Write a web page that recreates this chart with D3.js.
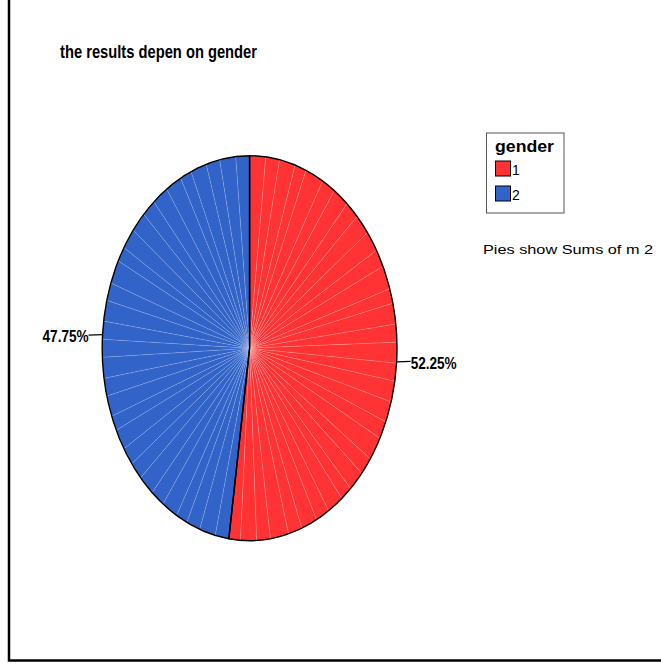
<!DOCTYPE html>
<html>
<head>
<meta charset="utf-8">
<script src="https://cdn.jsdelivr.net/npm/d3@7"></script>
<style>
  body { margin: 0; background: #fff; }
  svg { display: block; font-family: "Liberation Sans", Arial, sans-serif; }
</style>
</head>
<body>
<div id="chart"></div>
<script>
// data: one slice per case, value of m2, grouped by gender
var genders = ["1", "2"];
var genderColors = ["#ff3333", "#3163c9"];
var m2Gender1 = [7,6,7,5,8,6,7,6,7,7,6,8,5,7,6,7,6,7,7,6,8,6,7,5,7,6,7,6,8,6,7,5];
var m2Gender2 = [6,7,6,5,7,6,7,6,6,7,5,7,6,7,6,6,7,6,8,5,7,7,6,7,7,5,7,6,7,6];
var titleText = "the results depen on gender";
var noteText = "Pies show Sums of m 2";

var width = 661,
    height = 665;

var cx = 249.6, cy = 348.2,
    rx = 147.4, ry = 192.5,
    R = 100;

var svg = d3.select("#chart")
    .append("svg")
        .attr("width", width)
        .attr("height", height);

// frame (only left and bottom edges show)
svg.append("rect")
    .attr("x", 9)
    .attr("y", -20)
    .attr("width", 700)
    .attr("height", 680.5)
    .attr("fill", "none")
    .attr("stroke", "#000")
    .attr("stroke-width", 2.5);

svg.append("text")
    .attr("x", 60)
    .attr("y", 58)
    .attr("font-size", "19px")
    .attr("font-weight", "bold")
    .attr("textLength", 197)
    .attr("lengthAdjust", "spacingAndGlyphs")
    .text(titleText);

var rows = [];
m2Gender1.forEach(function(v) { rows.push({g: 0, v: v}); });
m2Gender2.forEach(function(v) { rows.push({g: 1, v: v}); });

var sums = [d3.sum(m2Gender1), d3.sum(m2Gender2)];
var total = d3.sum(sums);

var pie = d3.pie()
    .sort(null)
    .value(function(d) { return d.v; });

var arc = d3.arc()
    .innerRadius(0)
    .outerRadius(R);

var pieG = svg.append("g")
    .attr("transform", "translate(" + cx + "," + cy + ") scale(" + (rx / R) + "," + (ry / R) + ")");

pieG.selectAll("path.case")
    .data(pie(rows))
    .enter()
    .append("path")
        .attr("class", "case")
        .attr("d", arc)
        .attr("fill", function(d) { return genderColors[d.data.g]; })
        .attr("stroke", "rgba(255,255,255,0.2)")
        .attr("stroke-width", 0.7)
        .attr("vector-effect", "non-scaling-stroke");

var groupPie = d3.pie().sort(null)(sums);

pieG.selectAll("path.group")
    .data(groupPie)
    .enter()
    .append("path")
        .attr("class", "group")
        .attr("d", arc)
        .attr("fill", "none")
        .attr("stroke", "#000")
        .attr("stroke-width", 1.4)
        .attr("vector-effect", "non-scaling-stroke");

// percentage labels with short leader lines
groupPie.forEach(function(d, i) {
    var a = (d.startAngle + d.endAngle) / 2;
    var px = cx + rx * Math.sin(a);
    var py = cy - ry * Math.cos(a);
    var side = Math.sin(a) >= 0 ? 1 : -1;
    var lx = px + side * 14;
    svg.append("line")
        .attr("x1", px).attr("y1", py)
        .attr("x2", lx).attr("y2", py - side * 0.5)
        .attr("stroke", "#000")
        .attr("stroke-width", 1.2);
    svg.append("text")
        .attr("x", lx)
        .attr("y", py + 7)
        .attr("text-anchor", side > 0 ? "start" : "end")
        .attr("font-size", "16px")
        .attr("font-weight", "bold")
        .attr("textLength", 46)
        .attr("lengthAdjust", "spacingAndGlyphs")
        .text((d.value / total * 100).toFixed(2) + "%");
});

// legend
var legend = svg.append("g");

legend.append("rect")
    .attr("x", 486.5)
    .attr("y", 133)
    .attr("width", 77.5)
    .attr("height", 80)
    .attr("fill", "#fff")
    .attr("stroke", "#555")
    .attr("stroke-width", 1);

legend.append("text")
    .attr("x", 495)
    .attr("y", 152)
    .attr("font-size", "17px")
    .attr("font-weight", "bold")
    .attr("textLength", 59)
    .attr("lengthAdjust", "spacingAndGlyphs")
    .text("gender");

legend.selectAll("rect.sw")
    .data(genders)
    .enter()
    .append("rect")
        .attr("class", "sw")
        .attr("x", 495.5)
        .attr("y", function(d, i) { return 161 + i * 25; })
        .attr("width", 15)
        .attr("height", 15)
        .attr("fill", function(d, i) { return genderColors[i]; })
        .attr("stroke", "#000")
        .attr("stroke-width", 1);

legend.selectAll("text.lab")
    .data(genders)
    .enter()
    .append("text")
        .attr("class", "lab")
        .attr("x", 512)
        .attr("y", function(d, i) { return 175 + i * 25; })
        .attr("font-size", "14px")
        .text(function(d) { return d; });

svg.append("text")
    .attr("x", 483)
    .attr("y", 254)
    .attr("font-size", "13px")
    .attr("textLength", 170)
    .attr("lengthAdjust", "spacingAndGlyphs")
    .text(noteText);
</script>
</body>
</html>
